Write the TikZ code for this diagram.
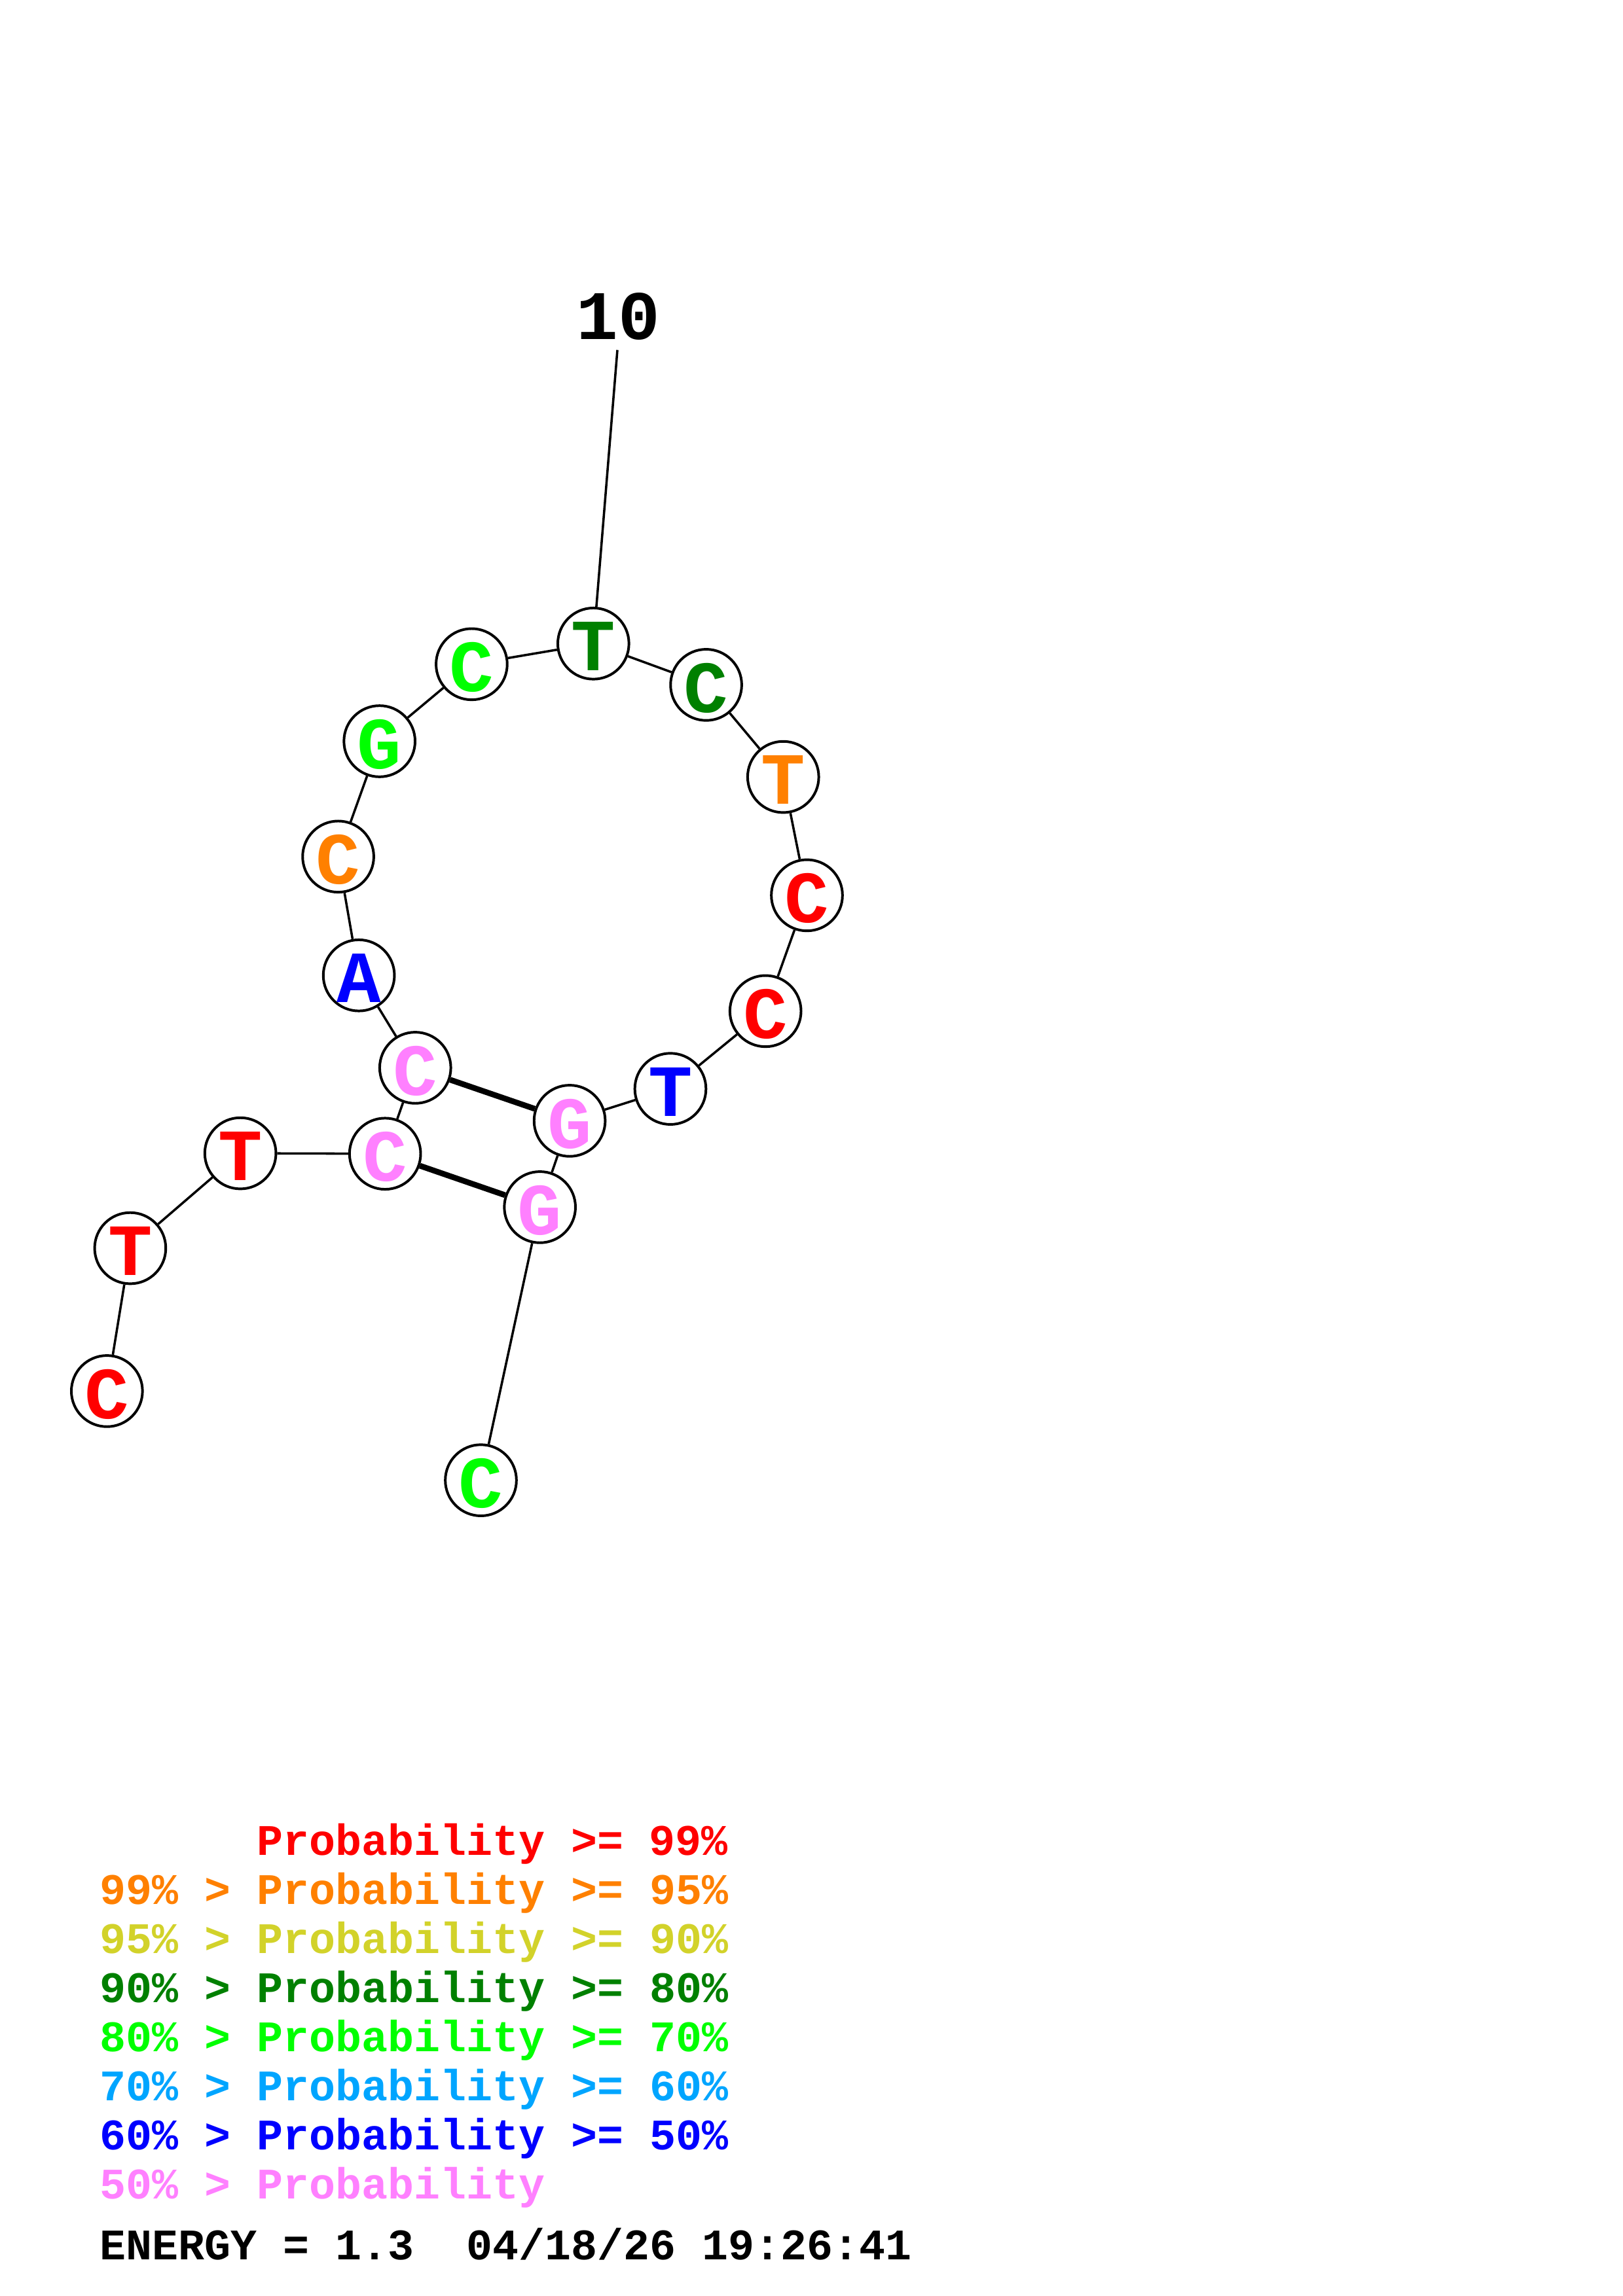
\documentclass[tikz,border=0pt]{standalone}
\usepackage{fontspec}
\setmainfont{Liberation Mono}
\definecolor{pRed}{RGB}{255,0,0}
\definecolor{pOrange}{RGB}{255,128,0}
\definecolor{pYellow}{RGB}{210,210,42}
\definecolor{pDkGreen}{RGB}{0,128,0}
\definecolor{pGreen}{RGB}{0,255,0}
\definecolor{pSky}{RGB}{0,165,255}
\definecolor{pBlue}{RGB}{0,0,255}
\definecolor{pPink}{RGB}{255,128,255}
\newcommand{\bl}[2]{\textcolor{#1}{\raisebox{-1.1pt}[\height][\depth]{#2}}}
\tikzset{
  base/.style={circle, draw=black, fill=white, line width=0.95pt, minimum size=26.1pt, inner sep=0pt, font=\fontsize{27}{27}\selectfont\bfseries},
  bb/.style={line width=0.85pt, black},
  pair/.style={line width=2.1pt, black},
  leg/.style={anchor=base west, inner sep=0pt, font=\fontsize{16}{16}\selectfont\bfseries},
  numlab/.style={inner sep=0pt, font=\fontsize{25.5}{25.5}\selectfont\bfseries}
}
\begin{document}
\begin{tikzpicture}[x=0.5373pt, y=-0.5373pt]
\useasboundingbox (0,0) rectangle (1108,1568);
% label
\node[numlab] (lab10) at (422,216) {10};
\coordinate (lab10end) at (421.5,239);
% nodes
\node[base] (n1)  at (73.0,950.0)  {\bl{pRed}{C}};
\node[base] (n2)  at (88.9,852.4)  {\bl{pRed}{T}};
\node[base] (n3)  at (164.1,787.6) {\bl{pRed}{T}};
\node[base] (n4)  at (262.9,787.9) {\bl{pPink}{C}};
\node[base] (n5)  at (283.5,729.2) {\bl{pPink}{C}};
\node[base] (n6)  at (245.0,666.1) {\bl{pBlue}{A}};
\node[base] (n7)  at (230.9,585.0) {\bl{pOrange}{C}};
\node[base] (n8)  at (259.1,506.2) {\bl{pGreen}{G}};
\node[base] (n9)  at (322.0,453.6) {\bl{pGreen}{C}};
\node[base] (n10) at (405.1,439.5) {\bl{pDkGreen}{T}};
\node[base] (n11) at (482.1,467.7) {\bl{pDkGreen}{C}};
\node[base] (n12) at (534.7,530.6) {\bl{pOrange}{T}};
\node[base] (n13) at (550.9,611.4) {\bl{pRed}{C}};
\node[base] (n14) at (522.6,690.5) {\bl{pRed}{C}};
\node[base] (n15) at (457.7,743.6) {\bl{pBlue}{T}};
\node[base] (n16) at (388.9,765.4) {\bl{pPink}{G}};
\node[base] (n17) at (368.6,824.4) {\bl{pPink}{G}};
\node[base] (n18) at (328.3,1010.9) {\bl{pGreen}{C}};
% backbone
\draw[bb] (lab10end) -- (n10);
\foreach \a/\b in {n1/n2,n2/n3,n3/n4,n4/n5,n5/n6,n6/n7,n7/n8,n8/n9,n9/n10,n10/n11,n11/n12,n12/n13,n13/n14,n14/n15,n15/n16,n16/n17,n17/n18}
  \draw[bb] (\a) -- (\b);
% pairs
\draw[pair] (n5) -- (n16);
\draw[pair] (n4) -- (n17);
% legend
\node[leg, text=pRed]     (l1) at (175,1267)   {Probability >= 99\%};
\node[leg, text=pOrange]  (l2) at (68,1300.5)    {99\% > Probability >= 95\%};
\node[leg, text=pYellow]  (l3) at (68,1334)      {95\% > Probability >= 90\%};
\node[leg, text=pDkGreen] (l4) at (68,1367.5)    {90\% > Probability >= 80\%};
\node[leg, text=pGreen]   (l5) at (68,1401)      {80\% > Probability >= 70\%};
\node[leg, text=pSky]     (l6) at (68,1434.5)    {70\% > Probability >= 60\%};
\node[leg, text=pBlue]    (l7) at (68,1468)      {60\% > Probability >= 50\%};
\node[leg, text=pPink]    (l8) at (68,1501.5)    {50\% > Probability};
\node[leg, text=black]    (l9) at (68,1543)      {ENERGY = 1.3\ \ 04/18/26 19:26:41};
\end{tikzpicture}
\end{document}
